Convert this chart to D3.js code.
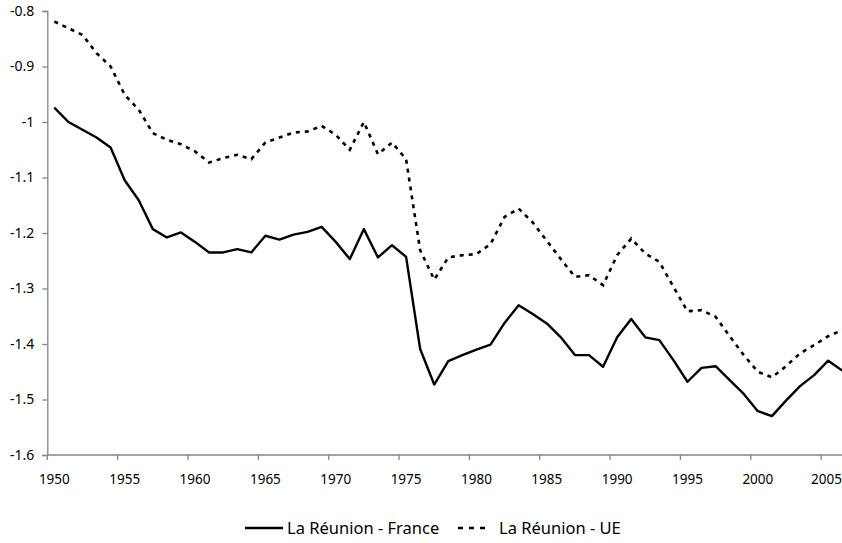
<!DOCTYPE html>
<html><head><meta charset="utf-8">
<script src="https://cdn.jsdelivr.net/npm/d3@7"></script>
<style>body{margin:0;background:#fff}svg{display:block}text{font-family:"Noto Sans",sans-serif;fill:#000}</style>
</head><body><div id="chart"></div>
<script>
const years = d3.range(1950, 2007);
const franceValues = [-0.974,-1.0,-1.014,-1.028,-1.046,-1.105,-1.141,-1.193,-1.208,-1.199,
 -1.216,-1.235,-1.235,-1.229,-1.235,-1.205,-1.212,-1.203,-1.198,-1.189,
 -1.216,-1.247,-1.193,-1.244,-1.222,-1.243,-1.409,-1.473,-1.431,-1.42,
 -1.41,-1.401,-1.362,-1.330,-1.346,-1.363,-1.388,-1.42,-1.42,-1.441,
 -1.388,-1.355,-1.388,-1.393,-1.429,-1.468,-1.443,-1.44,-1.465,-1.49,
 -1.521,-1.53,-1.502,-1.476,-1.456,-1.43,-1.448];
const ueValues = [-0.819,-0.831,-0.843,-0.876,-0.9,-0.951,-0.978,-1.02,-1.032,-1.04,
 -1.053,-1.073,-1.065,-1.059,-1.067,-1.037,-1.028,-1.019,-1.017,-1.007,
 -1.023,-1.05,-1.0,-1.058,-1.037,-1.067,-1.231,-1.284,-1.244,-1.24,
 -1.238,-1.22,-1.171,-1.156,-1.181,-1.214,-1.247,-1.279,-1.276,-1.294,
 -1.24,-1.21,-1.237,-1.252,-1.297,-1.341,-1.339,-1.351,-1.386,-1.42,
 -1.45,-1.46,-1.44,-1.417,-1.402,-1.386,-1.375];
const yTicks = [-0.8,-0.9,-1,-1.1,-1.2,-1.3,-1.4,-1.5,-1.6];
const xLabels = [1950,1955,1960,1965,1970,1975,1980,1985,1990,1995,2000,2005];
const seriesNames = ["La Réunion - France","La Réunion - UE"];

const W=842,H=543;
const svg=d3.select("#chart").append("svg").attr("width",W).attr("height",H);
const left=47.3, step=14.07;
const x=d3.scaleBand().domain(years).range([left,left+step*years.length]).paddingInner(0).paddingOuter(0);
const y=d3.scaleLinear().domain([-1.6,-0.8]).range([455,11]);

// axes
const gy=svg.append("g").attr("transform",`translate(${left},0)`)
 .call(d3.axisLeft(y).tickValues(yTicks).tickSize(5).tickPadding(8).tickFormat(d=>String(d)));
const xTickYears = years.filter(v=>(v-1950)%5===0);
const gx=svg.append("g").attr("transform",`translate(0,455)`);
gx.append("line").attr("x1",left).attr("x2",W).attr("y1",0).attr("y2",0);
gx.selectAll("line.t").data(xTickYears).join("line").attr("class","t")
 .attr("x1",d=>x(d)).attr("x2",d=>x(d)).attr("y1",0).attr("y2",5);
gx.selectAll("text").data(xLabels).join("text")
 .attr("x",d=>Math.min(x(d)+x.bandwidth()/2, W-15.5)).attr("y",29).attr("text-anchor","middle").attr("font-size",13.5).text(d=>d);
svg.selectAll("g line, g path.domain").attr("stroke","#868686").attr("stroke-width",1.3).attr("fill","none");
gy.selectAll("text").attr("font-size",14);

const line=d3.line().x((d,i)=>x(years[i])+x.bandwidth()/2).y(d=>y(d));
svg.append("path").datum(franceValues).attr("d",line).attr("fill","none").attr("stroke","#000").attr("stroke-width",2.4).attr("stroke-linejoin","round");
svg.append("path").datum(ueValues).attr("d",line).attr("fill","none").attr("stroke","#000").attr("stroke-width",2.6).attr("stroke-dasharray","4,5");

// legend
const lg=svg.append("g");
lg.append("line").attr("x1",245).attr("x2",283).attr("y1",528).attr("y2",528).attr("stroke","#000").attr("stroke-width",2.4);
lg.append("text").attr("x",287).attr("y",534).attr("font-size",16.5).text(seriesNames[0]);
lg.append("line").attr("x1",458).attr("x2",491).attr("y1",528).attr("y2",528).attr("stroke","#000").attr("stroke-width",2.6).attr("stroke-dasharray","5,6");
lg.append("text").attr("x",499).attr("y",534).attr("font-size",16.5).text(seriesNames[1]);
</script></body></html>
